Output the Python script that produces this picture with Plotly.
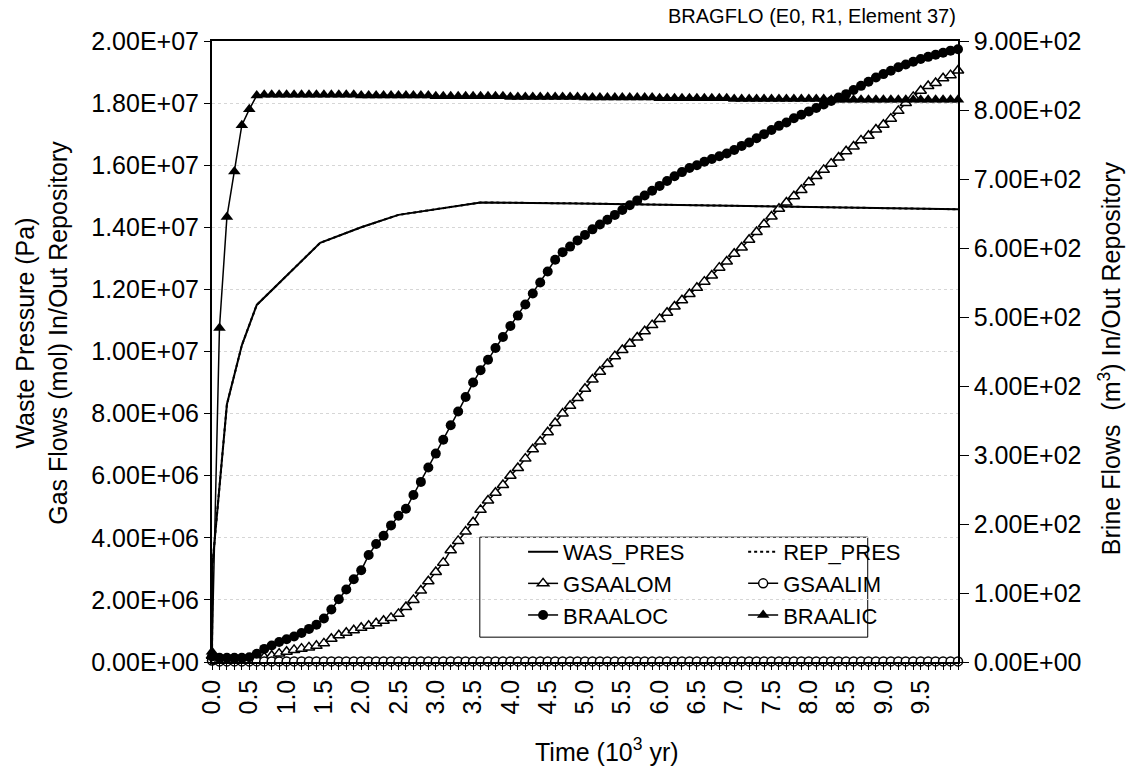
import plotly.graph_objects as go

# time axis (10^3 yr), one sample every 0.1
time_kyr = [
    0.0, 0.1, 0.2, 0.3, 0.4, 0.5, 0.6, 0.7, 0.8, 0.9,
    1.0, 1.1, 1.2, 1.3, 1.4, 1.5, 1.6, 1.7, 1.8, 1.9,
    2.0, 2.1, 2.2, 2.3, 2.4, 2.5, 2.6, 2.7, 2.8, 2.9,
    3.0, 3.1, 3.2, 3.3, 3.4, 3.5, 3.6, 3.7, 3.8, 3.9,
    4.0, 4.1, 4.2, 4.3, 4.4, 4.5, 4.6, 4.7, 4.8, 4.9,
    5.0, 5.1, 5.2, 5.3, 5.4, 5.5, 5.6, 5.7, 5.8, 5.9,
    6.0, 6.1, 6.2, 6.3, 6.4, 6.5, 6.6, 6.7, 6.8, 6.9,
    7.0, 7.1, 7.2, 7.3, 7.4, 7.5, 7.6, 7.7, 7.8, 7.9,
    8.0, 8.1, 8.2, 8.3, 8.4, 8.5, 8.6, 8.7, 8.8, 8.9,
    9.0, 9.1, 9.2, 9.3, 9.4, 9.5, 9.6, 9.7, 9.8, 9.9,
    10.0,
]

# pressure output times (irregular) and values (Pa)
pres_time = [0.0, 0.005, 0.2, 0.28, 0.4, 0.6, 1.45, 2.0, 2.5, 3.6, 4.9, 10.0]
was_pres = [0.10e6, 3.1e6, 8.3e6, 9.1e6, 10.2e6, 11.5e6, 13.5e6, 14.0e6,
            14.4e6, 14.8e6, 14.77e6, 14.58e6]
rep_pres = [0.10e6, 3.1e6, 8.3e6, 9.1e6, 10.2e6, 11.5e6, 13.5e6, 14.0e6,
            14.4e6, 14.8e6, 14.77e6, 14.58e6]

# gas flows (mol), read in units of 1e6
gsaalom_e6 = [
    0.20, 0.05, 0.05, 0.05, 0.05, 0.05, 0.10, 0.15, 0.20, 0.27,
    0.33, 0.39, 0.43, 0.47, 0.52, 0.60, 0.75, 0.86, 0.94, 1.02,
    1.10, 1.17, 1.25, 1.33, 1.42, 1.55, 1.77, 2.00, 2.30, 2.60,
    2.90, 3.20, 3.60, 3.90, 4.20, 4.50, 4.90, 5.20, 5.45, 5.70,
    6.00, 6.25, 6.55, 6.85, 7.10, 7.40, 7.70, 8.00, 8.25, 8.50,
    8.80, 9.10, 9.35, 9.60, 9.85, 10.05, 10.25, 10.45, 10.65, 10.85,
    11.05, 11.25, 11.45, 11.65, 11.85, 12.05, 12.25, 12.45, 12.70, 12.90,
    13.15, 13.35, 13.60, 13.85, 14.10, 14.35, 14.60, 14.80, 15.00, 15.20,
    15.45, 15.65, 15.85, 16.05, 16.25, 16.45, 16.60, 16.80, 16.95, 17.15,
    17.30, 17.50, 17.75, 18.00, 18.20, 18.40, 18.55, 18.65, 18.80, 18.90,
    19.05,
]
gsaalim_e6 = [
    0.05, 0.02, 0.02, 0.02, 0.02, 0.02, 0.02, 0.02, 0.02, 0.02,
    0.02, 0.02, 0.02, 0.02, 0.02, 0.02, 0.02, 0.02, 0.02, 0.02,
    0.02, 0.02, 0.02, 0.02, 0.02, 0.02, 0.02, 0.02, 0.02, 0.02,
    0.02, 0.02, 0.02, 0.02, 0.02, 0.02, 0.02, 0.02, 0.02, 0.02,
    0.02, 0.02, 0.02, 0.02, 0.02, 0.02, 0.02, 0.02, 0.02, 0.02,
    0.02, 0.02, 0.02, 0.02, 0.02, 0.02, 0.02, 0.02, 0.02, 0.02,
    0.02, 0.02, 0.02, 0.02, 0.02, 0.02, 0.02, 0.02, 0.02, 0.02,
    0.02, 0.02, 0.02, 0.02, 0.02, 0.02, 0.02, 0.02, 0.02, 0.02,
    0.02, 0.02, 0.02, 0.02, 0.02, 0.02, 0.02, 0.02, 0.02, 0.02,
    0.02, 0.02, 0.02, 0.02, 0.02, 0.02, 0.02, 0.02, 0.02, 0.02,
    0.02,
]

# brine flows (m3)
braaloc = [
    8, 6, 6, 6, 6, 7, 12, 19, 24, 29,
    33, 37, 42, 48, 54, 63, 76, 91, 105, 120,
    133, 155, 171, 183, 198, 212, 222, 242, 261, 282,
    302, 322, 343, 363, 384, 405, 423, 438, 455, 471,
    487, 502, 518, 534, 550, 566, 583, 594, 602, 611,
    619, 627, 634, 641, 648, 655, 662, 669, 676, 683,
    690, 697, 704, 710, 716, 720, 725, 729, 733, 737,
    742, 748, 753, 759, 765, 771, 777, 782, 788, 793,
    798, 803, 808, 813, 818, 823, 829, 835, 841, 847,
    852, 857, 862, 866, 870, 874, 877, 880, 883, 886,
    888,
]
braalic = [
    15, 484, 645, 711, 778, 801, 821, 822, 822, 822,
    822, 822, 822, 822, 822, 822, 822, 822, 822, 822,
    821, 821, 821, 821, 821, 821, 821, 821, 821, 821,
    820, 820, 820, 820, 820, 820, 820, 820, 820, 820,
    819, 819, 819, 819, 819, 819, 819, 819, 819, 819,
    818, 818, 818, 818, 818, 818, 818, 818, 818, 818,
    817, 817, 817, 817, 817, 817, 817, 817, 817, 817,
    816, 816, 816, 816, 816, 816, 816, 816, 816, 816,
    816, 816, 816, 815, 815, 815, 815, 815, 815, 815,
    815, 815, 815, 815, 815, 815, 815, 815, 815, 815,
    815,
]

# axis ticks
x_tickvals = [0.0, 0.5, 1.0, 1.5, 2.0, 2.5, 3.0, 3.5, 4.0, 4.5,
              5.0, 5.5, 6.0, 6.5, 7.0, 7.5, 8.0, 8.5, 9.0, 9.5]
x_ticktext = ["0.0", "0.5", "1.0", "1.5", "2.0", "2.5", "3.0", "3.5", "4.0", "4.5",
              "5.0", "5.5", "6.0", "6.5", "7.0", "7.5", "8.0", "8.5", "9.0", "9.5"]
left_tickvals = [0, 2e6, 4e6, 6e6, 8e6, 1e7, 1.2e7, 1.4e7, 1.6e7, 1.8e7, 2e7]
left_ticktext = ["0.00E+00", "2.00E+06", "4.00E+06", "6.00E+06", "8.00E+06",
                 "1.00E+07", "1.20E+07", "1.40E+07", "1.60E+07", "1.80E+07", "2.00E+07"]
right_tickvals = [0, 100, 200, 300, 400, 500, 600, 700, 800, 900]
right_ticktext = ["0.00E+00", "1.00E+02", "2.00E+02", "3.00E+02", "4.00E+02",
                  "5.00E+02", "6.00E+02", "7.00E+02", "8.00E+02", "9.00E+02"]

FONT = "Liberation Sans, Arial, sans-serif"

fig = go.Figure()

fig.add_trace(go.Scatter(
    x=pres_time, y=was_pres, name="WAS_PRES", mode="lines",
    line=dict(color="black", width=2), legend="legend",
))
fig.add_trace(go.Scatter(
    x=time_kyr, y=[v * 1e6 for v in gsaalom_e6], name="GSAALOM", mode="lines+markers",
    line=dict(color="black", width=1.5),
    marker=dict(symbol="triangle-up", size=10, color="white",
                line=dict(color="black", width=1.5)),
    legend="legend", cliponaxis=False,
))
fig.add_trace(go.Scatter(
    x=time_kyr, y=braaloc, name="BRAALOC", mode="lines+markers", yaxis="y2",
    line=dict(color="black", width=1.5),
    marker=dict(symbol="circle", size=10, color="black"),
    legend="legend", cliponaxis=False,
))
fig.add_trace(go.Scatter(
    x=pres_time, y=rep_pres, name="REP_PRES", mode="lines",
    line=dict(color="black", width=2, dash="dot"), legend="legend2",
))
fig.add_trace(go.Scatter(
    x=time_kyr, y=[v * 1e6 for v in gsaalim_e6], name="GSAALIM", mode="lines+markers",
    line=dict(color="black", width=1.5),
    marker=dict(symbol="circle", size=9, color="white",
                line=dict(color="black", width=1.5)),
    legend="legend2", cliponaxis=False,
))
fig.add_trace(go.Scatter(
    x=time_kyr, y=braalic, name="BRAALIC", mode="lines+markers", yaxis="y2",
    line=dict(color="black", width=1.5),
    marker=dict(symbol="triangle-up", size=11, color="black"),
    legend="legend2", cliponaxis=False,
))

legend_style = dict(
    font=dict(family=FONT, size=22, color="black"),
    bgcolor="rgba(0,0,0,0)", borderwidth=0,
    xanchor="left", yanchor="top", tracegroupgap=0,
)

fig.update_layout(
    width=1137, height=768,
    margin=dict(l=212, r=179, t=41, b=106),
    paper_bgcolor="white", plot_bgcolor="white",
    font=dict(family=FONT, size=25, color="black"),
    xaxis=dict(
        range=[0, 10], tickmode="array", tickvals=x_tickvals, ticktext=x_ticktext,
        tickangle=-90, ticks="outside", ticklen=6, tickcolor="black",
        minor=dict(dtick=0.1, ticks="outside", ticklen=6, tickcolor="black"),
        showline=True, linecolor="black", linewidth=1.5, mirror=True,
        showgrid=False, zeroline=False,
        tickfont=dict(size=25),
    ),
    yaxis=dict(
        range=[0, 2e7], tickmode="array", tickvals=left_tickvals, ticktext=left_ticktext,
        ticks="outside", ticklen=6, tickcolor="black",
        showline=True, linecolor="black", linewidth=2,
        showgrid=True, gridcolor="#d6d6d6", griddash="dot", gridwidth=1,
        zeroline=False, tickfont=dict(size=25),
    ),
    yaxis2=dict(
        range=[0, 900], overlaying="y", side="right",
        tickmode="array", tickvals=right_tickvals, ticktext=right_ticktext,
        ticks="outside", ticklen=9, tickcolor="black",
        showline=True, linecolor="black", linewidth=1.5,
        showgrid=False, zeroline=False, tickfont=dict(size=25),
    ),
    legend=dict(x=0.417, y=0.211, **legend_style),
    legend2=dict(x=0.712, y=0.211, **legend_style),
    showlegend=True,
)

# legend frame
fig.add_shape(
    type="rect", xref="paper", yref="paper",
    x0=0.359, x1=0.879, y0=0.040, y1=0.201,
    line=dict(color="black", width=1), fillcolor="white", layer="below",
)

fig.add_annotation(
    text="BRAGFLO (E0, R1, Element 37)", xref="paper", yref="paper",
    x=1.0, y=1.0, xanchor="right", yanchor="bottom", yshift=12, showarrow=False,
    font=dict(family=FONT, size=20),
)
fig.add_annotation(
    text="Waste Pressure (Pa)<br>Gas Flows (mol) In/Out Repository",
    xref="paper", yref="paper", x=-0.228, y=0.53, textangle=-90,
    xanchor="center", yanchor="middle", showarrow=False,
    font=dict(family=FONT, size=25),
)
fig.add_annotation(
    text="Brine Flows  (m<sup>3</sup>) In/Out Repository",
    xref="paper", yref="paper", x=1.203, y=0.49, textangle=-90,
    xanchor="center", yanchor="middle", showarrow=False,
    font=dict(family=FONT, size=25),
)
fig.add_annotation(
    text="Time (10<sup>3</sup> yr)", xref="paper", yref="paper",
    x=0.53, y=-0.112, xanchor="center", yanchor="top", showarrow=False,
    font=dict(family=FONT, size=25),
)

# drop the default page margin so the figure sits at the window's corner
fig.write_html("out.html", config={"displayModeBar": False},
               post_script="document.body.style.margin='0';")
